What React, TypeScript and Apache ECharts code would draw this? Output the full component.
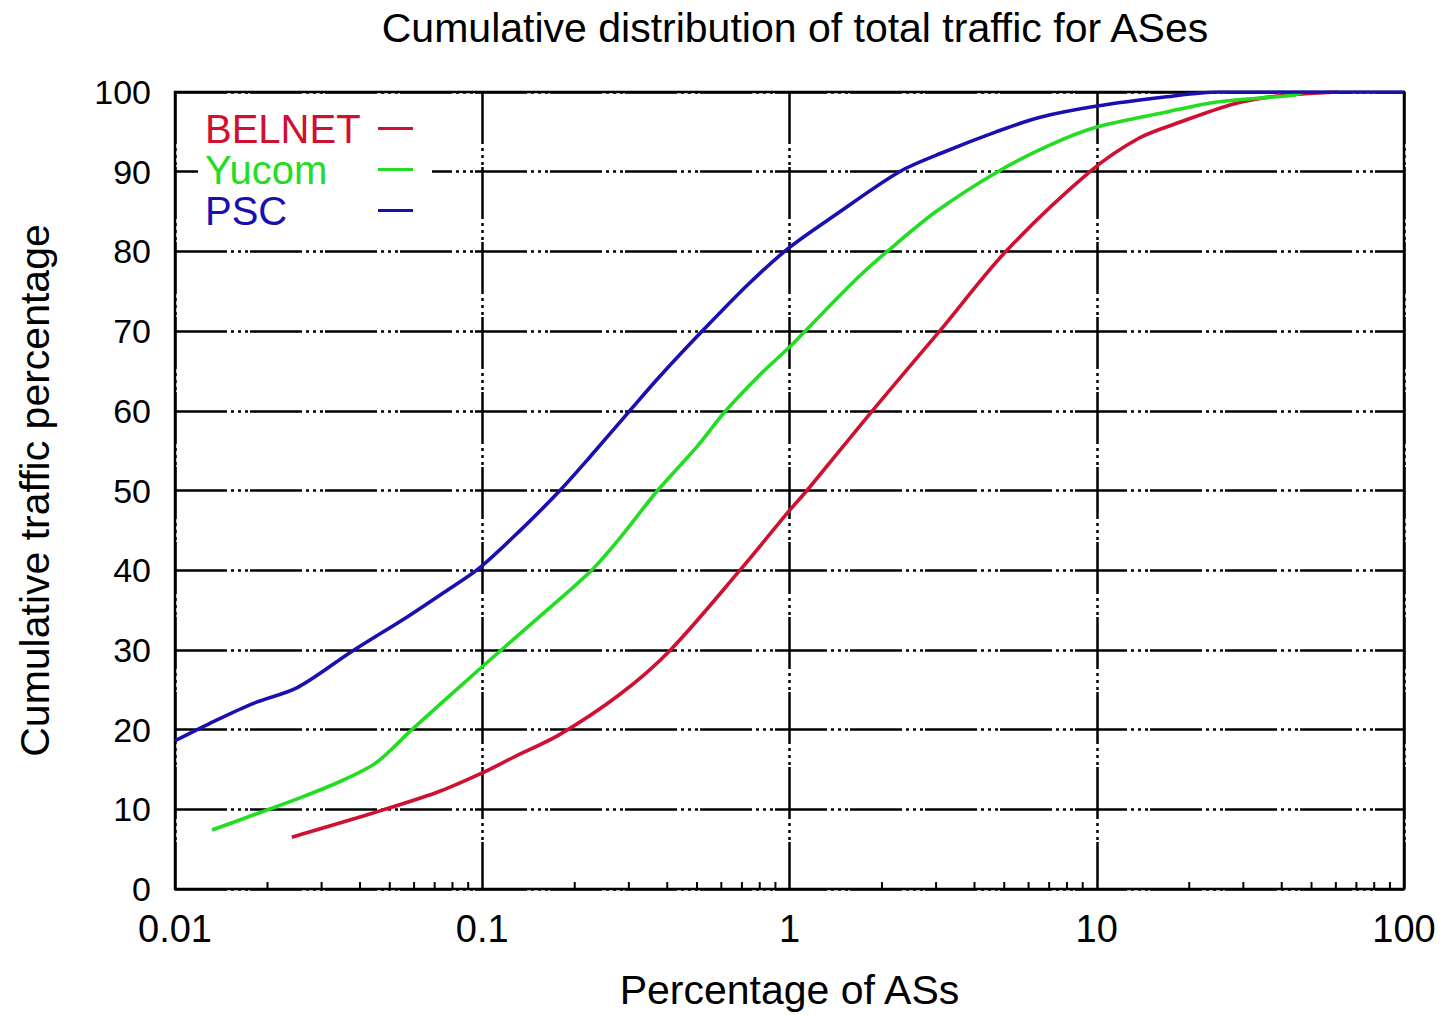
import React, { useEffect, useRef } from "react";
import * as echarts from "echarts";

const titleText = "Cumulative distribution of total traffic for ASes";
const xAxisName = "Percentage of ASs";
const yAxisName = "Cumulative traffic percentage";

const seriesNames = ["BELNET", "Yucom", "PSC"];
const seriesColors = ["#d01030", "#22dd22", "#1a10b0"];

const belnetX = [0.024, 0.043, 0.071, 0.098, 0.126, 0.179, 0.28, 0.41, 0.69, 1.0, 1.14, 1.86, 3.08, 5.06, 9.5, 13.7, 18.6, 27.9, 38.6, 61];
const belnetY = [6.5, 9.4, 12.1, 14.4, 16.5, 19.4, 24.4, 30, 40, 47.5, 50, 60, 70, 80, 90, 94.2, 96.2, 98.5, 99.5, 100];

const yucomX = [0.0132, 0.0199, 0.025, 0.0336, 0.045, 0.059, 0.0987, 0.166, 0.227, 0.28, 0.372, 0.5, 0.62, 0.8, 1.0, 1.3, 1.7, 2.08, 3.0, 4.76, 7.0, 10, 16.9, 24.6, 43.5, 47];
const yucomY = [7.4, 9.9, 11.3, 13.3, 15.8, 20, 27.7, 35.3, 40, 44, 50, 55.5, 60, 64.5, 68, 72.5, 77, 80, 85, 90, 93.3, 95.6, 97.5, 98.75, 99.6, 100];

const pscX = [0.01, 0.0135, 0.018, 0.0251, 0.0376, 0.0573, 0.075, 0.098, 0.133, 0.179, 0.224, 0.302, 0.378, 0.52, 0.74, 1.0, 1.4, 2.28, 3.2, 4.7, 6.5, 9.9, 16.9, 25, 40, 100];
const pscY = [18.6, 21.1, 23.3, 25.3, 29.8, 34.2, 37.2, 40.3, 45, 50, 54.2, 60, 64.3, 70, 76, 80.5, 84.5, 90, 92.5, 95, 96.8, 98.2, 99.4, 100, 100, 100];

const xTickLabels = ["0.01", "0.1", "1", "10", "100"];
const minorTickValues = [
  0.02, 0.03, 0.04, 0.05, 0.06, 0.07, 0.08, 0.09,
  0.2, 0.3, 0.4, 0.5, 0.6, 0.7, 0.8, 0.9,
  2, 3, 4, 5, 6, 7, 8, 9,
  20, 30, 40, 50, 60, 70, 80, 90,
];

const FONT = "'Liberation Sans', Arial, Helvetica, sans-serif";
const GRID_DASH = [52, 4, 3, 4, 3, 4, 3, 2];

function pairs(xs: number[], ys: number[]) {
  return xs.map((x, i) => [x, ys[i]]);
}

export default function App() {
  const ref = useRef<HTMLDivElement>(null);

  useEffect(() => {
    if (!ref.current) return;
    const chart = echarts.init(ref.current, undefined, { renderer: "svg" });
    const lineData = [pairs(belnetX, belnetY), pairs(yucomX, yucomY), pairs(pscX, pscY)];

    const option: any = {
      animation: false,
      backgroundColor: "#ffffff",
      title: {
        text: titleText,
        left: 790,
        textAlign: "center",
        top: 2,
        textStyle: { fontFamily: FONT, fontSize: 41, fontWeight: "normal", color: "#000" },
      },
      graphic: [
        {
          type: "rect",
          z: 1,
          silent: true,
          shape: { x: 198, y: 100, width: 234, height: 126 },
          style: { fill: "#ffffff" },
        },
      ],
      legend: {
        orient: "vertical",
        left: 200,
        top: 103,
        align: "right",
        icon: "rect",
        itemWidth: 35,
        itemHeight: 3,
        itemGap: 0,
        selectedMode: false,
        z: 5,
        formatter: "{t|{name}}",
        data: seriesNames.map((n, i) => ({
          name: n,
          textStyle: { color: seriesColors[i] },
        })),
        textStyle: {
          fontFamily: FONT,
          fontSize: 40,
          lineHeight: 41,
          rich: { t: { width: 168, align: "left", fontFamily: FONT, fontSize: 40, lineHeight: 41 } },
        },
      },
      grid: {
        left: 175,
        right: 38,
        top: 92,
        bottom: 123,
        show: true,
        borderColor: "#000",
        borderWidth: 2.5,
        backgroundColor: "transparent",
      },
      xAxis: {
        type: "log",
        logBase: 10,
        min: 0.01,
        max: 100,
        name: xAxisName,
        nameLocation: "middle",
        nameGap: 80,
        nameTextStyle: { fontFamily: FONT, fontSize: 41, color: "#000" },
        axisLine: { show: false },
        axisTick: { show: false },
        axisLabel: {
          margin: 21,
          fontFamily: FONT,
          fontSize: 38,
          color: "#000",
          formatter: (v: number) => xTickLabels[Math.round(Math.log10(v)) + 2],
        },
        splitLine: { show: true, lineStyle: { color: "#000", width: 2.5, type: GRID_DASH } },
      },
      yAxis: {
        type: "value",
        min: 0,
        max: 100,
        interval: 10,
        name: yAxisName,
        nameLocation: "middle",
        nameGap: 120,
        nameTextStyle: { fontFamily: FONT, fontSize: 41, color: "#000" },
        axisLine: { show: false },
        axisTick: { show: false },
        axisLabel: { margin: 24, fontFamily: FONT, fontSize: 34, color: "#000" },
        splitLine: { show: true, lineStyle: { color: "#000", width: 2.5, type: GRID_DASH } },
      },
      series: [
        ...seriesNames.map((n, i) => ({
          name: n,
          type: "line",
          data: lineData[i],
          showSymbol: false,
          symbol: "none",
          smooth: 0.3,
          color: seriesColors[i],
          lineStyle: { color: seriesColors[i], width: 3.6 },
          z: 5 + i,
        })),
        {
          name: "minorTicks",
          type: "custom",
          silent: true,
          z: 10,
          data: minorTickValues.map((v) => [v, 0]),
          encode: { x: 0, y: 1 },
          renderItem: (params: any, api: any) => {
            const p = api.coord([api.value(0), api.value(1)]);
            return {
              type: "line",
              shape: { x1: p[0], y1: p[1], x2: p[0], y2: p[1] - 7 },
              style: { stroke: "#000", lineWidth: 2 },
            };
          },
        },
      ],
    };
    chart.setOption(option);
    return () => chart.dispose();
  }, []);

  return (
    <div
      ref={ref}
      style={{ position: "absolute", left: 0, top: 0, width: 1442, height: 1015 }}
    />
  );
}
